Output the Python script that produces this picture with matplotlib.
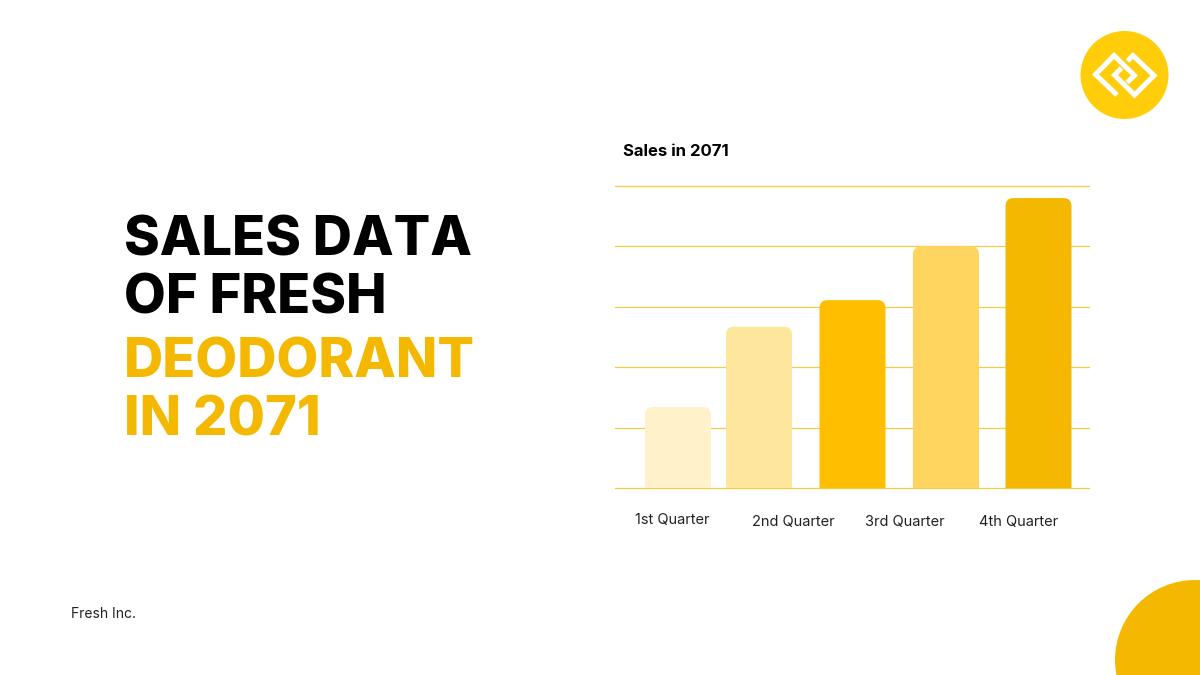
import matplotlib
matplotlib.use('Agg')
import matplotlib.pyplot as plt
from matplotlib.patches import Circle, FancyBboxPatch

# values (gridlines are 0..5, axis has no numbers)
quarters = ['1st Quarter', '2nd Quarter', '3rd Quarter', '4th Quarter']
bar_values = [1.34, 2.67, 3.11, 4.0, 4.8]
bar_colours = ['#fff1c9', '#fee69d', '#ffbe00', '#ffd55f', '#f4b800']
bar_centers = [678, 759, 852.5, 946, 1038.5]
grid_ticks = [0, 1, 2, 3, 4, 5]
label_x = [672, 793, 905, 1019]
label_y = [520, 522, 522, 522]

title_lines = ['SALES DATA', 'OF FRESH', 'DEODORANT', 'IN 2071']
title_colours = ['#000000', '#000000', '#f4b800', '#f4b800']
title_base = [256, 314, 378, 436]

plt.rcParams['font.family'] = ['Inter', 'DejaVu Sans']

W, H = 1200, 675
fig = plt.figure(figsize=(12, 6.75), dpi=100, facecolor='white')

# full-page layer in pixel coordinates for everything around the chart
page = fig.add_axes([0, 0, 1, 1])
page.set_xlim(0, W)
page.set_ylim(H, 0)
page.axis('off')

page.add_patch(Circle((1195, 660), 80, color='#f4b800', lw=0))
page.add_patch(Circle((1124.5, 75), 44, color='#ffcd0a', lw=0))

# logo, two linked open diamonds
left_link = [(1117, 95), (1095.5, 74.5), (1114, 55.5), (1134.5, 75.5), (1127, 82.5)]
right_link = [(1127.5, 61), (1133, 55.5), (1154, 75.5), (1134.5, 95), (1114.5, 75), (1121.5, 68)]
for link in (left_link, right_link):
    page.plot([p[0] for p in link], [p[1] for p in link], color='white', lw=3.6,
              solid_joinstyle='miter', solid_capstyle='butt')

for line, col, base in zip(title_lines, title_colours, title_base):
    page.text(124, base, line, color=col, fontsize=39, fontweight=800, va='baseline', ha='left')

page.text(71, 614, 'Fresh Inc.', fontsize=10, color='#222222', va='center', ha='left')
page.text(623, 151, 'Sales in 2071', fontsize=12, fontweight='bold', color='#000000', va='center', ha='left')

for name, x, y in zip(quarters, label_x, label_y):
    page.text(x, y, name, fontsize=10.5, color='#222222', va='center', ha='center')

# chart, x axis in page pixels so the uneven bar spacing stays as it is
ax = fig.add_axes([615 / W, 1 - 488 / H, 474 / W, 302 / H])
ax.patch.set_alpha(0)
ax.set_xlim(615, 1089)
ax.set_ylim(0, 5)
ax.axis('off')

for tick in grid_ticks:
    ax.axhline(tick, color='#f6ca45', lw=0.9, clip_on=False, zorder=1)

px_per_unit = 302 / 5
bar_width = 66
for x, val, col in zip(bar_centers, bar_values, bar_colours):
    # bottom runs below zero so only the top corners show rounded
    ax.add_patch(FancyBboxPatch((x - bar_width / 2, -0.5), bar_width, val + 0.5,
                                boxstyle='round,pad=0,rounding_size=8',
                                mutation_aspect=1 / px_per_unit,
                                facecolor=col, edgecolor='none', zorder=2))

fig.savefig('out.png', dpi=100)
